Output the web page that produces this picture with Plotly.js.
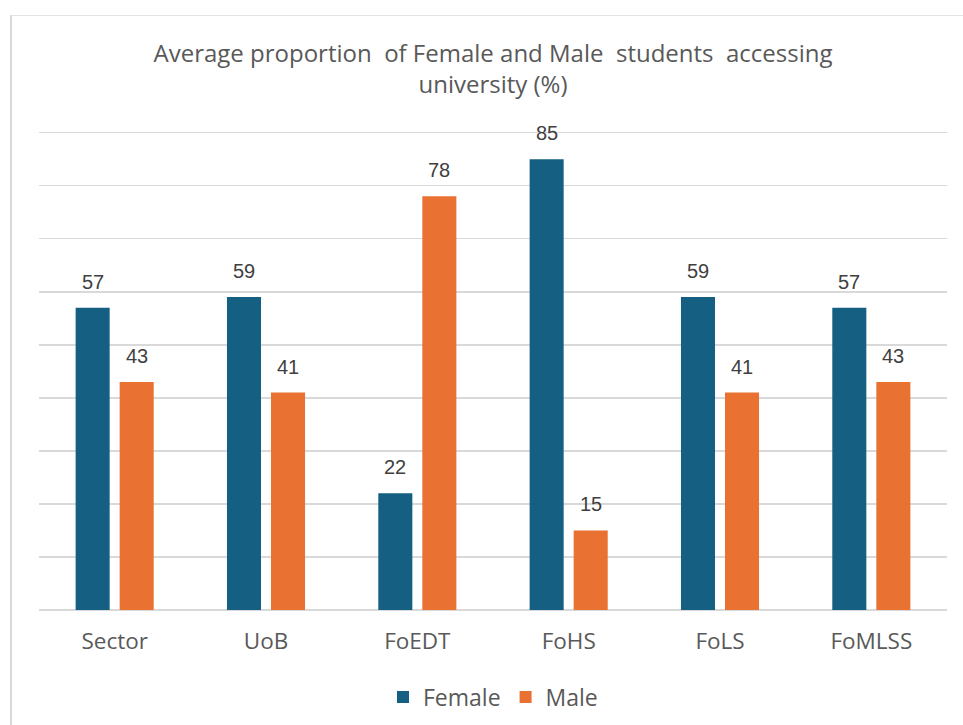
<!DOCTYPE html>
<html>
<head>
<meta charset="utf-8">
<script src="https://cdn.plot.ly/plotly-3.0.1.min.js"></script>
<style>
  html, body { margin: 0; padding: 0; background: #ffffff; }
  #frame {
    position: absolute; left: 10px; top: 15px; width: 1000px; height: 800px;
    border-left: 2px solid #d9d9d9; border-top: 1px solid #e3e3e3;
  }
  #chart { position: absolute; left: 0; top: 0; width: 963px; height: 725px; }
</style>
</head>
<body>
<div id="frame"></div>
<div id="chart"></div>
<script>
// Categories and shares (%) of students by gender
const categories = ["Sector", "UoB", "FoEDT", "FoHS", "FoLS", "FoMLSS"];
const femaleValues = [57, 59, 22, 85, 59, 57];
const maleValues = [43, 41, 78, 15, 41, 43];
const seriesNames = ["Female", "Male"];
const titleText = "Average proportion \u00a0of Female and Male \u00a0students \u00a0accessing<br>university (%)";

const FEMALE_COLOR = "#156082";
const MALE_COLOR = "#E97132";
const TEXT_COLOR = "#595959";
const GRID_COLOR = "#d9d9d9";
const UI_FONT = "Open Sans, Noto Sans, sans-serif";

// y axis runs a little past 90 so the 90 gridline is kept
const Y_MAX = 90.5;
const PX_PER_UNIT = 5.3;
const margin = { l: 39, r: 16, t: 0, b: 115, pad: 0 };
margin.t = 725 - margin.b - Y_MAX * PX_PER_UNIT;
const plotWidth = 963 - margin.l - margin.r;
const slotPx = (plotWidth / categories.length) * (1 - 0.418) / 2;

const traces = [
  {
    type: "bar", name: seriesNames[0], x: categories, y: femaleValues,
    marker: { color: FEMALE_COLOR }, hoverinfo: "x+y"
  },
  {
    type: "bar", name: seriesNames[1], x: categories, y: maleValues,
    marker: { color: MALE_COLOR }, hoverinfo: "x+y"
  }
];

// Value labels above each bar, placed from the same arrays
const annotations = [];
[femaleValues, maleValues].forEach(function (vals, s) {
  vals.forEach(function (v, i) {
    annotations.push({
      x: categories[i], y: v, xref: "x", yref: "y",
      text: String(v), showarrow: false,
      xshift: (s === 0 ? -1 : 1) * slotPx / 2,
      yshift: 26, yanchor: "middle", xanchor: "center",
      font: { family: "Liberation Sans, Arial, sans-serif", size: 20, color: "#404040" }
    });
  });
});

const layout = {
  width: 963, height: 725,
  margin: margin,
  paper_bgcolor: "rgba(0,0,0,0)",
  plot_bgcolor: "rgba(0,0,0,0)",
  font: { family: UI_FONT, color: TEXT_COLOR },
  title: {
    text: titleText,
    font: { family: UI_FONT, size: 24, color: TEXT_COLOR },
    x: 0.5, xref: "paper", xanchor: "center",
    y: 1 - 62 / 725, yref: "container", yanchor: "top",
    automargin: false
  },
  barmode: "group",
  bargap: 0.418,
  bargroupgap: 0.227,
  xaxis: {
    type: "category", automargin: false,
    showgrid: false, showline: false, zeroline: false, ticks: "",
    tickfont: { family: UI_FONT, size: 22.5, color: TEXT_COLOR },
    ticklabelstandoff: 15
  },
  yaxis: {
    range: [0, Y_MAX], dtick: 10, tick0: 0, automargin: false,
    showticklabels: false, ticks: "",
    showgrid: true, gridcolor: GRID_COLOR, gridwidth: 1.5,
    zeroline: true, zerolinecolor: GRID_COLOR, zerolinewidth: 1.5,
    fixedrange: true
  },
  showlegend: true,
  legend: {
    orientation: "h", x: 0.5, xanchor: "center",
    y: (725 - 697) / 725, yref: "container", yanchor: "middle",
    font: { family: UI_FONT, size: 23, color: TEXT_COLOR },
    itemwidth: 30, bgcolor: "rgba(0,0,0,0)"
  },
  annotations: annotations
};

Plotly.newPlot("chart", traces, layout, { displayModeBar: false, staticPlot: true });
</script>
</body>
</html>
